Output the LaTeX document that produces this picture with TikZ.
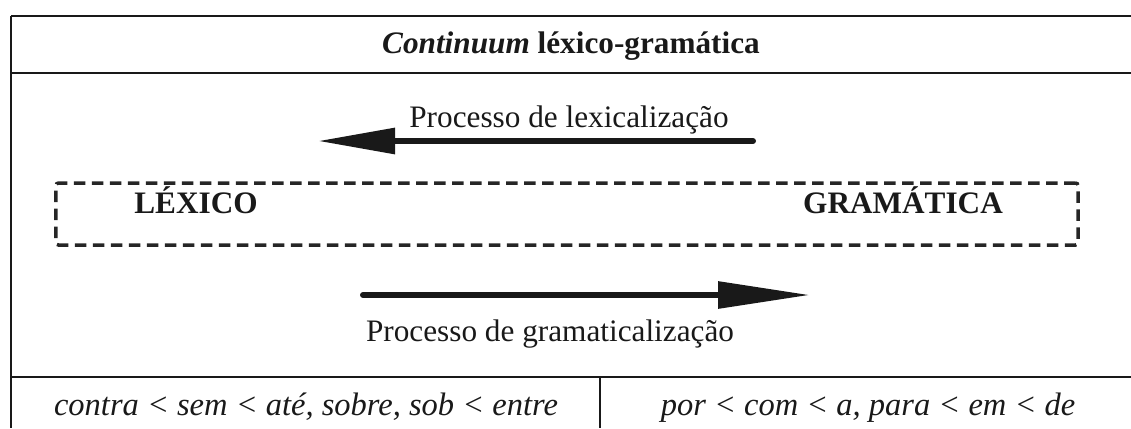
\documentclass[tikz,border=0pt]{standalone}
\usepackage{fontspec}
\setmainfont{Liberation Serif}
\usetikzlibrary{arrows.meta}
\begin{document}
\begin{tikzpicture}[x=0.4pt,y=-0.4pt,
  rule/.style={line width=1pt,draw=black!90},
  thinrule/.style={line width=0.8pt,draw=black!90},
  txt/.style={font=\fontsize{12.5}{14}\selectfont,inner sep=0pt,text=black!90},
  boldtxt/.style={txt,font=\fontsize{12.5}{14}\selectfont\bfseries},
  ittxt/.style={txt,font=\fontsize{13}{15}\selectfont\itshape},
  dashbox/.style={draw=black!85,line width=1.4pt,dash pattern=on 4.6pt off 2.6pt,rounded corners=1pt,
    minimum width=408.8pt,minimum height=24.8pt,inner sep=0pt},
  procarrow/.style={line width=2.4pt,draw=black!90,line cap=round}
]
\useasboundingbox (0,0) rectangle (1131,428);
% table rules
\coordinate (tl) at (11,16);
\coordinate (tr) at (1131,16);
\coordinate (ml) at (11,73);
\coordinate (mr) at (1131,73);
\coordinate (bl) at (11,377);
\coordinate (br) at (1131,377);
\coordinate (bot) at (11,428);
\coordinate (dtop) at (600,377);
\coordinate (dbot) at (600,428);
\draw[rule] (tl) -- (tr);
\draw[rule] (ml) -- (mr);
\draw[rule] (bl) -- (br);
\draw[rule] (tl) -- (bot);
\draw[thinrule] (dtop) -- (dbot);
% title
\node[boldtxt,anchor=base] (title) at (571,53) {\textit{Continuum} léxico-gramática};
% lexicalization arrow
\node[txt,anchor=base] (lexlabel) at (569,127) {Processo de lexicalização};
\coordinate (lexstart) at (753,141);
\coordinate (lexend) at (318,141);
\draw[procarrow,-{Triangle[length=30.8pt,width=10pt]}] (lexstart) -- (lexend);
% dashed continuum box
\node[dashbox] (box) at (567,214) {};
\node[boldtxt,anchor=base] (lexico) at (196,213) {LÉXICO};
\node[boldtxt,anchor=base] (gram) at (903,213) {GRAMÁTICA};
% grammaticalization arrow
\coordinate (gramstart) at (363,295);
\coordinate (gramend) at (810,295);
\draw[procarrow,-{Triangle[length=36.8pt,width=10.4pt]}] (gramstart) -- (gramend);
\node[txt,anchor=base] (gramlabel) at (550,341) {Processo de gramaticalização};
% bottom row
\node[ittxt,anchor=base] (leftcell) at (306,415) {contra < sem < até, sobre, sob < entre};
\node[ittxt,anchor=base] (rightcell) at (868,415) {por < com < a, para < em < de};
\end{tikzpicture}
\end{document}
